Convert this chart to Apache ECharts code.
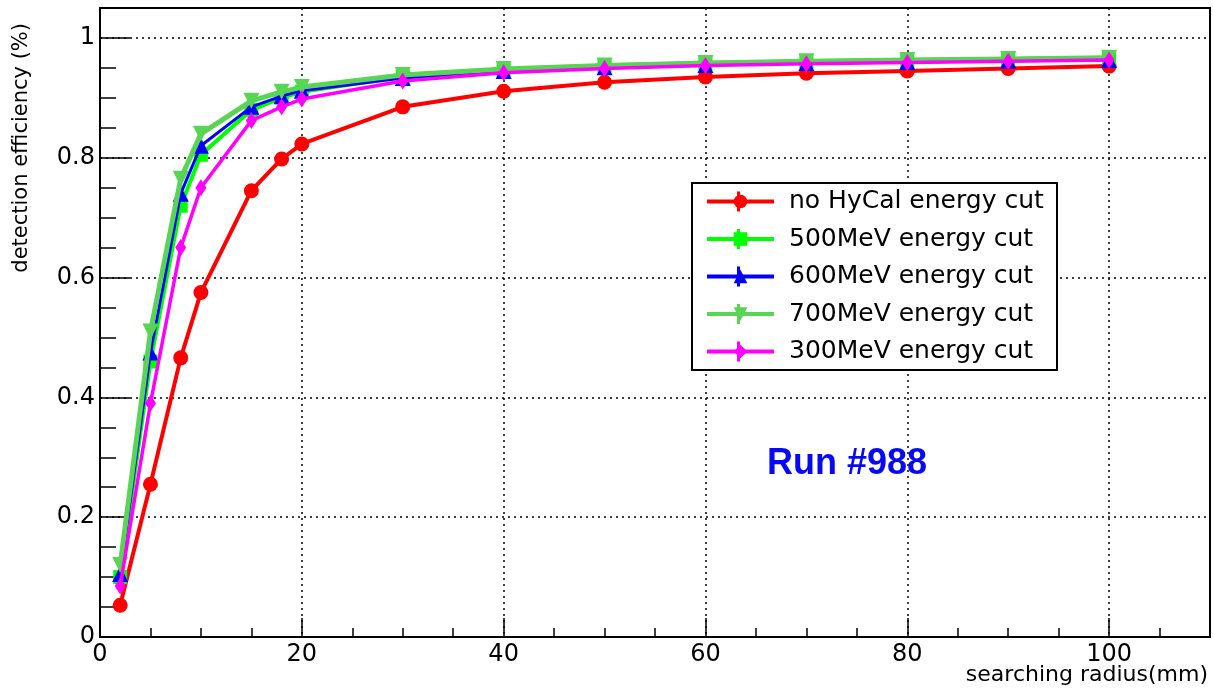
<!DOCTYPE html>
<html><head><meta charset="utf-8">
<script src="https://cdn.jsdelivr.net/npm/echarts@6/dist/echarts.min.js"></script>
<style>html,body{margin:0;padding:0;background:#fff}#c{width:1213px;height:695px}</style>
</head><body><div id="c"></div>
<script>
const radius = [2, 5, 8, 10, 15, 18, 20, 30, 40, 50, 60, 70, 80, 90, 100];
const noCut  = [0.053, 0.255, 0.466, 0.575, 0.745, 0.798, 0.823, 0.885, 0.911, 0.926, 0.935, 0.941, 0.945, 0.949, 0.953];
const cut500 = [0.100, 0.460, 0.720, 0.805, 0.880, 0.900, 0.910, 0.935, 0.947, 0.954, 0.958, 0.961, 0.963, 0.965, 0.967];
const cut600 = [0.105, 0.475, 0.740, 0.820, 0.885, 0.903, 0.912, 0.933, 0.945, 0.951, 0.955, 0.958, 0.960, 0.962, 0.963];
const cut700 = [0.120, 0.510, 0.765, 0.840, 0.895, 0.910, 0.918, 0.938, 0.948, 0.954, 0.958, 0.961, 0.963, 0.965, 0.967];
const cut300 = [0.085, 0.390, 0.650, 0.750, 0.862, 0.885, 0.898, 0.928, 0.942, 0.949, 0.954, 0.957, 0.959, 0.961, 0.963];
const seriesNames = ['no HyCal energy cut', '500MeV energy cut', '600MeV energy cut', '700MeV energy cut', '300MeV energy cut'];
const xTicks = [0, 20, 40, 60, 80, 100];
const yTicks = [0, 0.2, 0.4, 0.6, 0.8, 1];
const xTitle = 'searching radius(mm)';
const yTitle = 'detection efficiency (%)';
const runLabel = 'Run #988';

const FONT = 'DejaVu Sans';
const chart = echarts.init(document.getElementById('c'), null, {renderer: 'canvas'});
const pts = arr => radius.map((x, i) => [x, arr[i]]);
const near = (v, list) => list.some(t => Math.abs(t - v) < 1e-6);

const styles = [
  {data: noCut,  color: '#ff0000', symbol: 'circle',   size: 15, width: 4, rotate: 0},
  {data: cut500, color: '#00ff00', symbol: 'rect',     size: 14, width: 4, rotate: 0},
  {data: cut600, color: '#0000ff', symbol: 'triangle', size: 16, width: 3, rotate: 0},
  {data: cut700, color: '#59d454', symbol: 'triangle', size: 16, width: 5, rotate: 180},
  {data: cut300, color: '#ff00ff', symbol: 'diamond',  size: [11, 17], width: 3.5, rotate: 0}
];

// legend layout
const LEG_LEFT = 705, LEG_TOP = 189, LEG_W = 67, LEG_ROW = 25, LEG_GAP = 12.5;
const legendBars = styles.map((s, i) => {
  const cy = LEG_TOP + LEG_ROW / 2 + i * (LEG_ROW + LEG_GAP);
  return {type: 'line', z: 11, shape: {x1: LEG_LEFT + LEG_W / 2, y1: cy - 10, x2: LEG_LEFT + LEG_W / 2, y2: cy + 10},
          style: {stroke: s.color, lineWidth: 3}};
});

const option = {
  animation: false,
  backgroundColor: '#fff',
  grid: {left: 100, right: 3, top: 8, bottom: 58, show: true, borderColor: '#000', borderWidth: 2,
         containLabel: false, outerBoundsMode: 'none'},
  xAxis: [
    {type: 'value', min: 0, max: 110, interval: 20, position: 'bottom',
     axisLine: {show: true, lineStyle: {color: '#000', width: 2}},
     axisTick: {show: true, inside: true, length: 19, lineStyle: {color: '#000', width: 1.5}},
     axisLabel: {margin: 6, fontSize: 24, fontFamily: FONT, color: '#000',
                 formatter: v => near(v, xTicks) ? String(Math.round(v)) : ''},
     splitLine: {show: true, lineStyle: {color: '#000', type: [2, 4], width: 1.5}}},
    {type: 'value', min: 0, max: 110, interval: 5, position: 'bottom',
     axisLine: {show: false},
     axisTick: {show: true, inside: true, length: 9, lineStyle: {color: '#000', width: 1.5}},
     axisLabel: {show: false}, splitLine: {show: false}}
  ],
  yAxis: [
    {type: 'value', min: 0, max: 1.05, interval: 0.2, position: 'left',
     axisLine: {show: true, lineStyle: {color: '#000', width: 2}},
     axisTick: {show: true, inside: true, length: 30, lineStyle: {color: '#000', width: 1.5}},
     axisLabel: {margin: 5, fontSize: 24, fontFamily: FONT, color: '#000',
                 formatter: v => near(v, yTicks) ? String(+v.toFixed(1)) : ''},
     splitLine: {show: true, lineStyle: {color: '#000', type: [2, 4], width: 1.5}}},
    {type: 'value', min: 0, max: 1.05, interval: 0.05, position: 'left',
     axisLine: {show: false},
     axisTick: {show: true, inside: true, length: 16, lineStyle: {color: '#000', width: 1.5}},
     axisLabel: {show: false}, splitLine: {show: false}}
  ],
  legend: {
    orient: 'vertical', left: LEG_LEFT, top: LEG_TOP, padding: 0,
    itemWidth: LEG_W, itemHeight: 17, itemGap: LEG_GAP,
    selectedMode: false, z: 10,
    textStyle: {fontFamily: FONT, fontSize: 25, color: '#000', lineHeight: LEG_ROW, padding: [0, 0, 0, 10]},
    data: seriesNames.map((n, i) => ({name: n, lineStyle: {width: 4, color: styles[i].color},
                                       itemStyle: {color: styles[i].color}}))
  },
  graphic: [
    {type: 'rect', z: 3, shape: {x: 692, y: 183, width: 365, height: 187},
     style: {fill: '#fff', stroke: '#000', lineWidth: 2}},
    {type: 'text', z: 5, x: 847, y: 464,
     style: {text: runLabel, fontFamily: '"Liberation Sans", Arial, sans-serif', fontWeight: 'bold', fontSize: 36,
             fill: '#0808f8', textAlign: 'center', textVerticalAlign: 'middle'}},
    {type: 'text', z: 5, x: 1208, y: 675,
     style: {text: xTitle, fontFamily: FONT, fontSize: 22, fill: '#000', textAlign: 'right', textVerticalAlign: 'middle'}},
    {type: 'text', z: 5, x: 22, y: 23, rotation: Math.PI / 2,
     style: {text: yTitle, fontFamily: FONT, fontSize: 21, fill: '#000', textAlign: 'right', textVerticalAlign: 'middle'}}
  ].concat(legendBars),
  series: styles.map((s, i) => ({
    name: seriesNames[i], type: 'line', xAxisIndex: 0, yAxisIndex: 0,
    data: pts(s.data), symbol: s.symbol, symbolSize: s.size, symbolRotate: s.rotate,
    showSymbol: true, showAllSymbol: true, z: 2 + i * 0.1,
    lineStyle: {color: s.color, width: s.width},
    itemStyle: {color: s.color},
    emphasis: {disabled: true}
  }))
};
chart.setOption(option);
</script></body></html>
